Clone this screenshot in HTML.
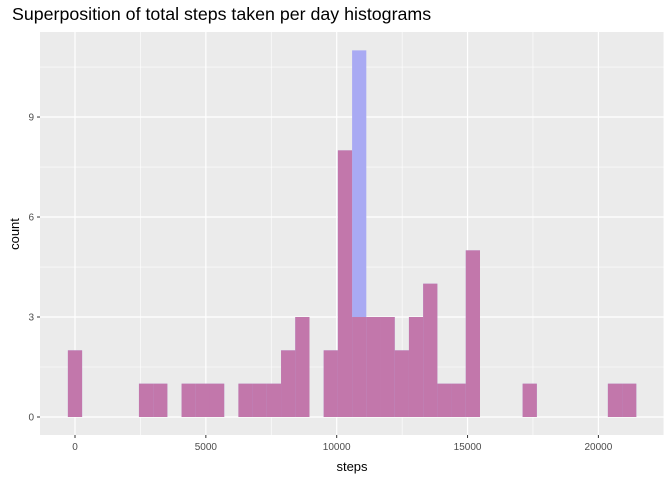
<!DOCTYPE html>
<html><head><meta charset="utf-8"><style>
body{margin:0;background:#fff;font-family:"Liberation Sans",sans-serif}
</style></head><body>
<svg width="672" height="480" xmlns="http://www.w3.org/2000/svg">
<text x="12" y="20" font-size="17.8" fill="#000">Superposition of total steps taken per day histograms</text>
<rect x="40" y="32" width="624" height="403" fill="#ebebeb"/>
<g id="grid"></g>
<g id="bars"></g>
<g id="axes"></g>
<text x="352" y="471" font-size="13" text-anchor="middle">steps</text>
<text x="0" y="0" font-size="13" text-anchor="middle" transform="translate(19,234) rotate(-90)">count</text>
</svg>
<script>
const binWidth = 543;
const purpleCounts = [2,0,0,0,0,1,1,0,1,1,1,0,1,1,1,2,3,0,2,8,3,3,3,2,3,4,1,1,5,0,0,0,1,0,0,0,0,0,1,1];
const blueCounts   = [2,0,0,0,0,1,1,0,1,1,1,0,1,1,1,2,3,0,2,8,11,3,3,2,3,4,1,1,5,0,0,0,1,0,0,0,0,0,1,1];
const xTicks = [0,5000,10000,15000,20000];
const yTicks = [0,3,6,9];
const NS="http://www.w3.org/2000/svg";
const xs = v => 75 + v*0.02617;
const ys = c => 417 - c*33.33;
function mk(tag, attrs, parent){const e=document.createElementNS(NS,tag);for(const k in attrs)e.setAttribute(k,attrs[k]);document.getElementById(parent).appendChild(e);return e;}
[1.5,4.5,7.5,10.5].forEach(v=>{const l=mk('line',{x1:40,x2:664,y1:ys(v),y2:ys(v),stroke:'#fff','stroke-width':0.6},'grid');});
[2500,7500,12500,17500,22500].forEach(v=>{const l=mk('line',{x1:xs(v),x2:xs(v),y1:32,y2:435,stroke:'#fff','stroke-width':0.6},'grid');});
yTicks.forEach(v=>{const l=mk('line',{x1:40,x2:664,y1:ys(v),y2:ys(v),stroke:'#fff','stroke-width':1.2},'grid');
 const t=mk('line',{x1:37,x2:40,y1:ys(v),y2:ys(v),stroke:'#333','stroke-width':1},'axes');
 const tx=mk('text',{x:34,y:ys(v)+3.5,'font-size':10,'text-anchor':'end',fill:'#4d4d4d'},'axes');tx.textContent=v;});
xTicks.forEach(v=>{const l=mk('line',{x1:xs(v),x2:xs(v),y1:32,y2:435,stroke:'#fff','stroke-width':1.2},'grid');
 const t=mk('line',{x1:xs(v),x2:xs(v),y1:435,y2:438,stroke:'#333','stroke-width':1},'axes');
 const tx=mk('text',{x:xs(v),y:450,'font-size':10,'text-anchor':'middle',fill:'#4d4d4d'},'axes');tx.textContent=v;});
function drawSeries(arr, color, name){arr.forEach((c,k)=>{if(!c)return;const x0=xs((k-0.5)*binWidth),x1=xs((k+0.5)*binWidth);
 const r=mk('rect',{x:x0,y:ys(c),width:x1-x0,height:ys(0)-ys(c),fill:color},'bars');
 
 });}
drawSeries(blueCounts,'#a9aaf3','bar-imputed');
drawSeries(purpleCounts,'#c277ab','bar-original');
</script>
</body></html>
